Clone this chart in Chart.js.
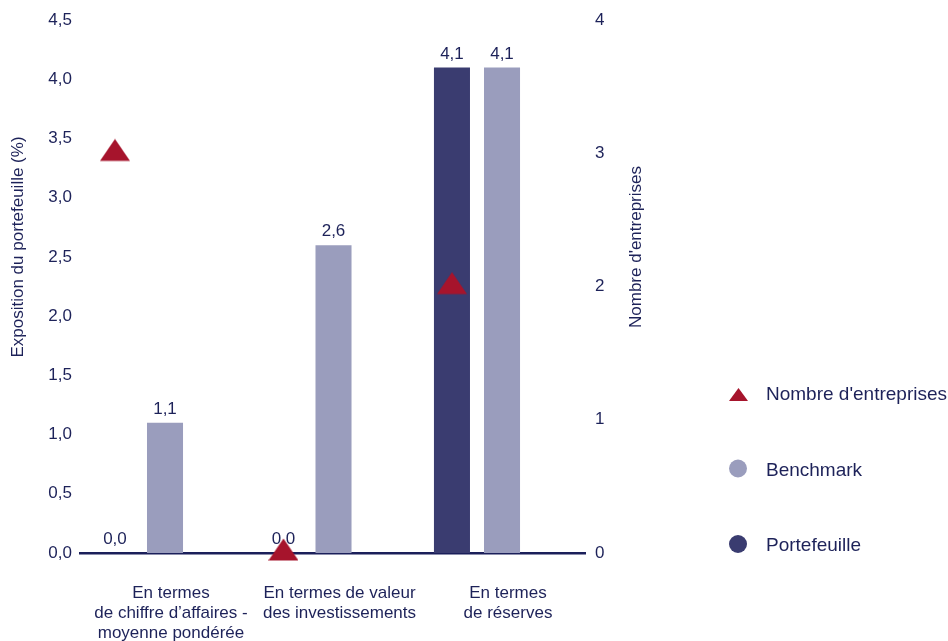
<!DOCTYPE html>
<html>
<head>
<meta charset="utf-8">
<script src="https://cdn.jsdelivr.net/npm/chart.js@4.4.1/dist/chart.umd.min.js"></script>
<style>
  html, body { margin: 0; padding: 0; background: #ffffff; }
  #wrap { width: 948px; height: 641px; position: relative; }
</style>
</head>
<body>
<div id="wrap"><canvas id="graph" width="948" height="641"></canvas></div>
<script>
// Données
var categories = [
  ["En termes", "de chiffre d\u2019affaires -", "moyenne pondérée"],
  ["En termes de valeur", "des investissements"],
  ["En termes", "de réserves"]
];
var portefeuille = [0.0, 0.0, 4.1];
var benchmark = [1.1, 2.6, 4.1];
var nbEntreprises = [3, 0, 2];

var textColor = "#1d2259";
var navy = "#3a3c70";
var lilac = "#9a9dbd";
var red = "#a6142c";
var fontFam = "'Liberation Sans', Arial, sans-serif";

var catPct = 0.594;

function fr(v) {
  return Number(v).toFixed(1).replace(".", ",");
}

// triangle un peu aplati pour les points
var tri = document.createElement("canvas");
tri.width = 30;
tri.height = 30;
var tctx = tri.getContext("2d");
tctx.fillStyle = red;
tctx.beginPath();
tctx.moveTo(15, 0.5);
tctx.lineTo(30, 22.5);
tctx.lineTo(0, 22.5);
tctx.closePath();
tctx.fill();

// etiquettes au dessus des barres
var valueLabels = {
  id: "valueLabels",
  afterDatasetDraw: function(chart, args) {
    var ds = chart.data.datasets[args.index];
    if (ds.type === "line") return;
    var c = chart.ctx;
    c.save();
    c.font = "17px " + fontFam;
    c.fillStyle = textColor;
    c.textAlign = "center";
    c.textBaseline = "bottom";
    args.meta.data.forEach(function(bar, i) {
      c.fillText(fr(ds.data[i].y), bar.x, bar.y - 5);
    });
    c.restore();
  }
};

// titres des axes
var axisTitles = {
  id: "axisTitles",
  afterDraw: function(chart) {
    var c = chart.ctx;
    var titles = [
      { x: 18, text: "Exposition du portefeuille (%)" },
      { x: 636, text: "Nombre d'entreprises" }
    ];
    titles.forEach(function(t) {
      c.save();
      c.font = "17px " + fontFam;
      c.fillStyle = textColor;
      c.textAlign = "center";
      c.textBaseline = "middle";
      c.translate(t.x, 247);
      c.rotate(-Math.PI / 2);
      c.fillText(t.text, 0, 0);
      c.restore();
    });
  }
};

// légende à droite
var sideLegend = {
  id: "sideLegend",
  afterDraw: function(chart) {
    var c = chart.ctx;
    var order = [0, 2, 1];
    order.forEach(function(di, k) {
      var ds = chart.data.datasets[di];
      var y = 395 + k * 75.5;
      c.save();
      c.fillStyle = ds.type === "line" ? red : ds.backgroundColor;
      c.beginPath();
      if (ds.type === "line") {
        c.moveTo(729, y + 6);
        c.lineTo(748, y + 6);
        c.lineTo(738.5, y - 7);
        c.closePath();
      } else {
        c.arc(738, y - 2, 9, 0, Math.PI * 2);
      }
      c.fill();
      c.font = "19px " + fontFam;
      c.fillStyle = textColor;
      c.textAlign = "left";
      c.textBaseline = "middle";
      c.fillText(ds.label, 766, y);
      c.restore();
    });
  }
};

var ctx = document.getElementById("graph").getContext("2d");

var chart = new Chart(ctx, {
  type: "bar",
  data: {
    datasets: [
      {
        type: "line",
        label: "Nombre d'entreprises",
        data: nbEntreprises.map(function(v, i) { return { x: i - catPct / 4, y: v }; }),
        yAxisID: "y1",
        showLine: false,
        clip: false,
        pointStyle: tri,
        pointRadius: 15,
        pointHoverRadius: 15,
        order: 0
      },
      {
        label: "Portefeuille",
        data: portefeuille.map(function(v, i) { return { x: i, y: v }; }),
        backgroundColor: navy,
        yAxisID: "y",
        order: 1
      },
      {
        label: "Benchmark",
        data: benchmark.map(function(v, i) { return { x: i, y: v }; }),
        backgroundColor: lilac,
        yAxisID: "y",
        order: 1
      }
    ]
  },
  options: {
    responsive: false,
    animation: false,
    devicePixelRatio: 1,
    categoryPercentage: catPct,
    barPercentage: 0.72,
    layout: { padding: { top: 17, right: 303, bottom: 0, left: 0 } },
    plugins: {
      legend: { display: false },
      tooltip: { enabled: false }
    },
    scales: {
      x: {
        type: "linear",
        min: -0.356,
        max: 2.641,
        offset: false,
        grid: { display: false, drawTicks: false },
        border: { display: true, color: "#1b1f5a", width: 2.5 },
        afterBuildTicks: function(s) {
          s.ticks = categories.map(function(c, i) { return { value: i }; });
        },
        afterFit: function(s) { s.height = 88; },
        ticks: {
          color: textColor,
          font: { family: fontFam, size: 17, lineHeight: 1.15 },
          padding: 31,
          labelOffset: 31,
          maxRotation: 0,
          autoSkip: false,
          callback: function(v) { return categories[v]; }
        }
      },
      y: {
        position: "left",
        min: 0,
        max: 4.5,
        grid: { display: false, drawTicks: false },
        border: { display: false },
        afterFit: function(s) { s.width = 80; },
        ticks: {
          stepSize: 0.5,
          padding: 8,
          color: textColor,
          font: { family: fontFam, size: 17 },
          callback: function(v) { return fr(v); }
        }
      },
      y1: {
        position: "right",
        min: 0,
        max: 4,
        grid: { display: false, drawTicks: false },
        border: { display: false },
        afterFit: function(s) { s.width = 60; },
        ticks: {
          stepSize: 1,
          padding: 10,
          color: textColor,
          font: { family: fontFam, size: 17 }
        }
      }
    }
  },
  plugins: [valueLabels, axisTitles, sideLegend]
});
</script>
</body>
</html>
